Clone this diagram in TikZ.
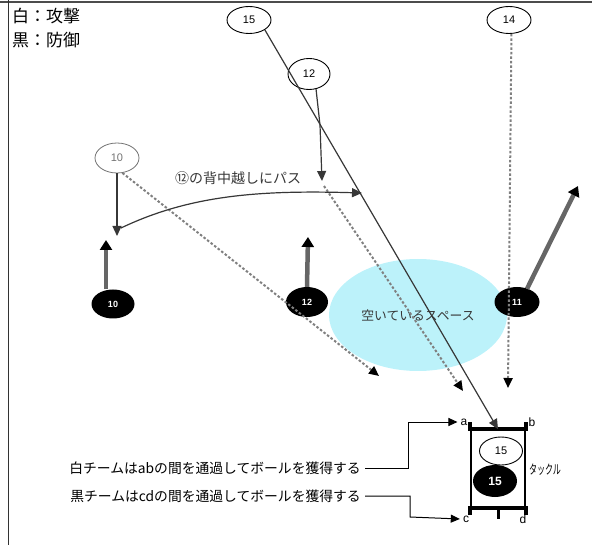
\documentclass[tikz,border=0pt]{standalone}
\usepackage{fontspec}
\usepackage{graphicx}
\setmainfont{Noto Sans CJK JP}
\newfontfamily\arial{Liberation Sans}
\usetikzlibrary{arrows.meta,shapes.geometric,calc}
\definecolor{spacecyan}{RGB}{188,242,250}
\definecolor{inkgray}{RGB}{55,55,55}
\begin{document}
\begin{tikzpicture}[x=1pt,y=-1pt,
  wplayer/.style={draw, ellipse, line width=0.9pt, minimum width=44pt, minimum height=27pt, inner sep=0pt, font=\arial\fontsize{11}{11}\selectfont},
  bplayer/.style={ellipse, fill=black, minimum width=43pt, minimum height=29pt, inner sep=0pt, text=white, font=\arial\bfseries\fontsize{9}{9}\selectfont},
  solidarr/.style={draw=inkgray, line width=1.2pt, -{Triangle[length=10pt,width=9pt]}},
  plainline/.style={draw=inkgray, line width=1.2pt},
  dotarr/.style={draw=black!50, line width=2pt, dash pattern=on 2.5pt off 2pt, -{Triangle[length=10pt,width=9pt,color=black]}},
  movearr/.style={draw=black!60, line width=4.5pt, -{Triangle[length=10pt,width=12pt,color=black]}},
  lbl/.style={inner sep=0pt, font=\fontsize{13.8}{14}\selectfont},
  letter/.style={inner sep=0pt, font=\arial\fontsize{12}{12}\selectfont},
  conn/.style={draw=black, line width=1pt, -{Triangle[length=9pt,width=8pt]}}
]
\useasboundingbox (0,0) rectangle (592,545);
% frame
\draw[black!70, line width=1.2pt] (0,2) -- (592,2);
\draw[black!80, line width=1pt] (8,0) -- (8,545);
% legend
\node[anchor=west, inner sep=0pt, font=\fontsize{17}{17}\selectfont] (leg1) at (12,16) {白：攻撃};
\node[anchor=west, inner sep=0pt, font=\fontsize{17}{17}\selectfont] (leg2) at (12,40) {黒：防御};
% open space
\node[ellipse, fill=spacecyan, minimum width=178pt, minimum height=112pt, inner sep=0pt, text=inkgray, font=\fontsize{12.8}{13}\selectfont] (space) at (418,315) {空いているスペース};
% white players
\node[wplayer] (n15) at (249,20) {15};
\node[wplayer, minimum width=42pt, minimum height=31pt] (n12) at (309,74) {12};
\node[wplayer] (n14) at (509,20) {14};
\node[wplayer, draw=black!55, text=black!55, line width=0.8pt, minimum height=30pt] (n10) at (117,158) {10};
% tackle box
\node[draw, line width=1.6pt, minimum width=54pt, minimum height=77pt, inner sep=0pt] (box) at (498,468.5) {};
\draw[line width=3.5pt] ([yshift=7pt]box.north west) -- (box.north west) -- (box.north east) -- ([yshift=7pt]box.north east);
\draw[line width=3.5pt] ([yshift=-7pt]box.south west) -- (box.south west) -- (box.south east) -- ([yshift=-7pt]box.south east);
\draw[line width=3pt] (box.south) -- ([yshift=-11pt]box.south);
\node[wplayer, minimum width=43pt, minimum height=28pt] (t15w) at (501,451) {15};
\node[bplayer, minimum width=44pt, minimum height=32pt, font=\arial\bfseries\fontsize{12}{12}\selectfont] (t15b) at (495,481) {15};
\node[inner sep=0pt, font=\fontsize{13}{13}\selectfont] (tackle) at (545,470) {\scalebox{0.62}[1]{タックル}};
\node[letter] (la) at (464,422) {a};
\node[letter] (lb) at (532,422) {b};
\node[letter] (lc) at (466,519) {c};
\node[letter] (ld) at (523,519) {d};
% black players
\node[bplayer] (b10) at (113,304) {10};
\node[bplayer, minimum width=42pt, minimum height=30pt] (b12) at (307,302) {12};
\node[bplayer, minimum width=45pt, minimum height=30pt] (b11) at (517,302) {11};
% coordinates
\coordinate (j12) at (320,125);
\coordinate (t12) at (322,181);
\coordinate (s12) at (324,186);
\coordinate (d12) at (463,391);
\coordinate (t10) at (117,236);
\coordinate (p10s) at (121,228);
\coordinate (p10e) at (362,193);
\coordinate (d10) at (379,376);
\coordinate (d14) at (508,388);
\coordinate (m10) at (106,240);
\coordinate (m12) at (308,237);
\coordinate (m11) at (578,186);
\coordinate (ka) at (408,422);
\coordinate (kc) at (410,517);
% dotted runs
\draw[dotarr] (n10.-70) -- (d10);
\draw[dotarr] (n14.-80) -- (d14);
\draw[dotarr] (s12) -- (d12);
% movement arrows of defenders
\draw[movearr] ([xshift=-7pt]b10.north) -- (m10);
\draw[movearr] (b12.north) -- (m12);
\draw[movearr] ([xshift=10pt,yshift=-2pt]b11.north) -- (m11);
% solid runs
\draw[solidarr] (n15.south east) -- (box.north);
\draw[plainline] (n12.-65) -- (j12);
\draw[solidarr] (j12) -- (t12);
\draw[solidarr] (n10.south) -- (t10);
\draw[solidarr] (p10s) .. controls (190,195) and (260,190) .. (p10e);
\node[inner sep=0pt, text=inkgray, font=\fontsize{14}{14}\selectfont] (pass) at (238,178) {⑫の背中越しにパス};
% explanations
\node[lbl, anchor=east] (ta) at (361,468) {白チームはabの間を通過してボールを獲得する};
\node[lbl, anchor=east] (tc) at (361,496) {黒チームはcdの間を通過してボールを獲得する};
\draw[conn] ([xshift=4pt]ta.east) -| (ka) -- ([xshift=-3pt]la.west);
\draw[conn] ([xshift=4pt]tc.east) -| (kc) -- ([xshift=-3pt]lc.west);
\end{tikzpicture}
\end{document}
